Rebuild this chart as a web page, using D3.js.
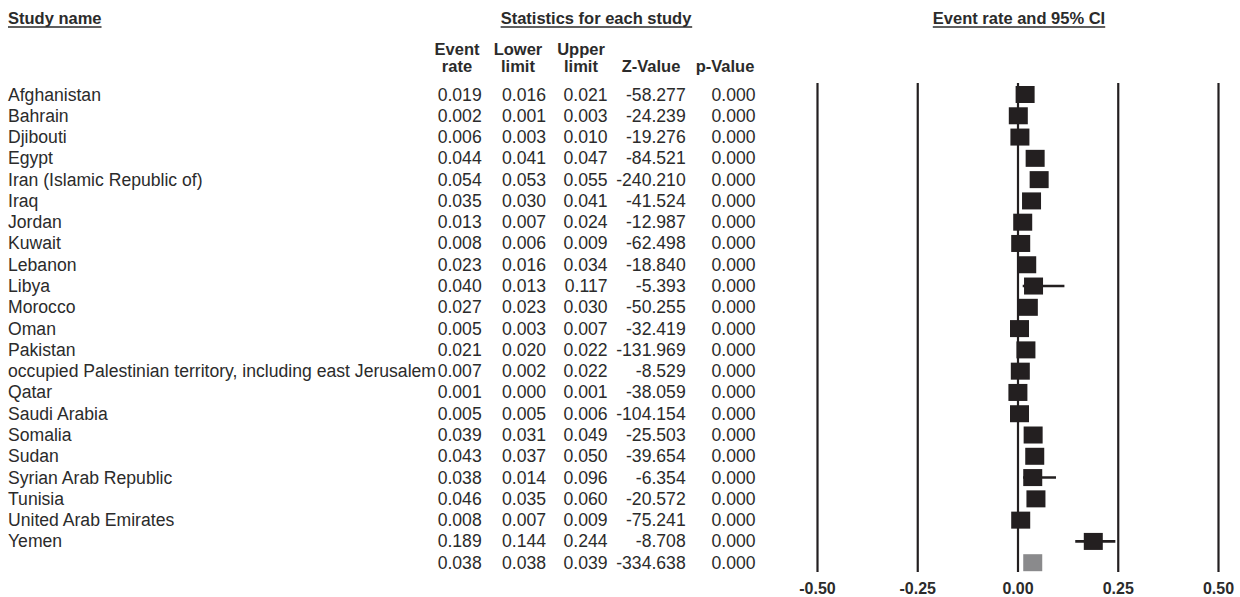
<!DOCTYPE html>
<html>
<head>
<meta charset="utf-8">
<script src="https://cdn.jsdelivr.net/npm/d3@7"></script>
<style>
  body { margin: 0; background: #fff; }
  svg text { font-family: "Liberation Sans", Arial, sans-serif; fill: #2b2b2b; }
  .hdr { font-weight: bold; font-size: 16.5px; }
  .cell { font-size: 17.6px; }
</style>
</head>
<body>
<div id="chart"></div>
<script>
document.addEventListener('DOMContentLoaded', e => {
  const studies = ['Afghanistan', 'Bahrain', 'Djibouti', 'Egypt', 'Iran (Islamic Republic of)', 'Iraq',
    'Jordan', 'Kuwait', 'Lebanon', 'Libya', 'Morocco', 'Oman', 'Pakistan',
    'occupied Palestinian territory, including east Jerusalem', 'Qatar', 'Saudi Arabia', 'Somalia',
    'Sudan', 'Syrian Arab Republic', 'Tunisia', 'United Arab Emirates', 'Yemen'];
  const eventRate = [0.019, 0.002, 0.006, 0.044, 0.054, 0.035, 0.013, 0.008, 0.023, 0.040, 0.027,
    0.005, 0.021, 0.007, 0.001, 0.005, 0.039, 0.043, 0.038, 0.046, 0.008, 0.189];
  const lowerLimit = [0.016, 0.001, 0.003, 0.041, 0.053, 0.030, 0.007, 0.006, 0.016, 0.013, 0.023,
    0.003, 0.020, 0.002, 0.000, 0.005, 0.031, 0.037, 0.014, 0.035, 0.007, 0.144];
  const upperLimit = [0.021, 0.003, 0.010, 0.047, 0.055, 0.041, 0.024, 0.009, 0.034, 0.117, 0.030,
    0.007, 0.022, 0.022, 0.001, 0.006, 0.049, 0.050, 0.096, 0.060, 0.009, 0.244];
  const zValue = [-58.277, -24.239, -19.276, -84.521, -240.210, -41.524, -12.987, -62.498, -18.840,
    -5.393, -50.255, -32.419, -131.969, -8.529, -38.059, -104.154, -25.503, -39.654, -6.354,
    -20.572, -75.241, -8.708];
  const pValue = studies.map(() => 0.000);
  const summary = [0.038, 0.038, 0.039, -334.638, 0.000];
  const axisTicks = [-0.50, -0.25, 0.00, 0.25, 0.50];

  const width = 1240, height = 597;
  const svg = d3.select('#chart').append('svg')
    .attr('width', width)
    .attr('height', height);

  // row baselines (studies + summary row)
  const y = d3.scaleLinear().domain([0, studies.length]).range([100.5, 568.7]);
  const x = d3.scaleLinear().domain([-0.5, 0.5]).range([817, 1218]);

  // Section headers with underlines
  const headers = [
    { t: 'Study name', x: 8, anchor: 'start' },
    { t: 'Statistics for each study', x: 596, anchor: 'middle' },
    { t: 'Event rate and 95% CI', x: 1019, anchor: 'middle' }
  ];
  headers.forEach(h => {
    const t = svg.append('text')
      .attr('class', 'hdr')
      .attr('x', h.x)
      .attr('y', 23.5)
      .attr('text-anchor', h.anchor)
      .text(h.t);
    const bb = t.node().getBBox();
    svg.append('line')
      .attr('x1', bb.x).attr('x2', bb.x + bb.width)
      .attr('y1', 27).attr('y2', 27)
      .attr('stroke', '#2b2b2b').attr('stroke-width', 1.3);
  });

  // column headers
  const colRight = [481.7, 546, 607.5, 685.7, 755.5];
  const colCenter = [457, 518, 581, 651, 725];
  const colHead = [['Event', 'rate'], ['Lower', 'limit'], ['Upper', 'limit'], ['', 'Z-Value'], ['', 'p-Value']];
  colHead.forEach((lines, i) => {
    lines.forEach((s, j) => {
      svg.append('text')
        .attr('class', 'hdr')
        .attr('x', colCenter[i])
        .attr('y', 55 + j * 16.5)
        .attr('text-anchor', 'middle')
        .text(s);
    });
  });

  // table rows
  const rows = studies.map((name, i) => ({
    name,
    vals: [eventRate[i], lowerLimit[i], upperLimit[i], zValue[i], pValue[i]]
  }));
  rows.push({ name: '', vals: summary });

  const rowG = svg.append('g').selectAll('g')
    .data(rows)
    .join('g')
    .attr('transform', (d, i) => `translate(0,${y(i)})`);

  rowG.append('text')
    .attr('class', 'cell')
    .attr('x', 8)
    .text(d => d.name);

  rowG.selectAll('text.num')
    .data(d => d.vals)
    .join('text')
    .attr('class', 'cell num')
    .attr('x', (d, i) => colRight[i])
    .attr('text-anchor', 'end')
    .text(d => d.toFixed(3));

  // vertical reference lines + axis labels
  const lineTop = 83, lineBottom = 572;
  const axis = d3.axisBottom(x)
    .tickValues(axisTicks)
    .tickSize(-(lineBottom - lineTop))
    .tickFormat(d => d.toFixed(2));

  const ax = svg.append('g')
    .attr('transform', `translate(0,${lineBottom})`)
    .call(axis);
  ax.select('.domain').remove();
  ax.selectAll('.tick line')
    .attr('stroke', '#231f20')
    .attr('stroke-width', 2.2);
  ax.selectAll('.tick text')
    .attr('class', 'hdr')
    .attr('dy', null)
    .attr('y', 22)
    .style('font-size', '16px');

  // confidence intervals
  const plot = svg.append('g');
  plot.selectAll('line.ci')
    .data(rows.slice(0, studies.length))
    .join('line')
    .attr('class', 'ci')
    .attr('x1', d => x(d.vals[1]))
    .attr('x2', d => x(d.vals[2]))
    .attr('y1', (d, i) => y(i) - 6)
    .attr('y2', (d, i) => y(i) - 6)
    .attr('stroke', '#231f20')
    .attr('stroke-width', 2.6);

  const sqW = 19, sqH = 17;
  plot.selectAll('rect.pt')
    .data(rows.slice(0, studies.length))
    .join('rect')
    .attr('class', 'pt')
    .attr('x', d => x(d.vals[0]) - sqW / 2)
    .attr('y', (d, i) => y(i) - 6 - sqH / 2)
    .attr('width', sqW)
    .attr('height', sqH)
    .attr('fill', '#231f20');

  // summary
  plot.append('rect')
    .attr('x', x(summary[0]) - sqW / 2)
    .attr('y', y(studies.length) - 6 - sqH / 2)
    .attr('width', sqW)
    .attr('height', sqH)
    .attr('fill', '#8a8a8c');
});
</script>
</body>
</html>
